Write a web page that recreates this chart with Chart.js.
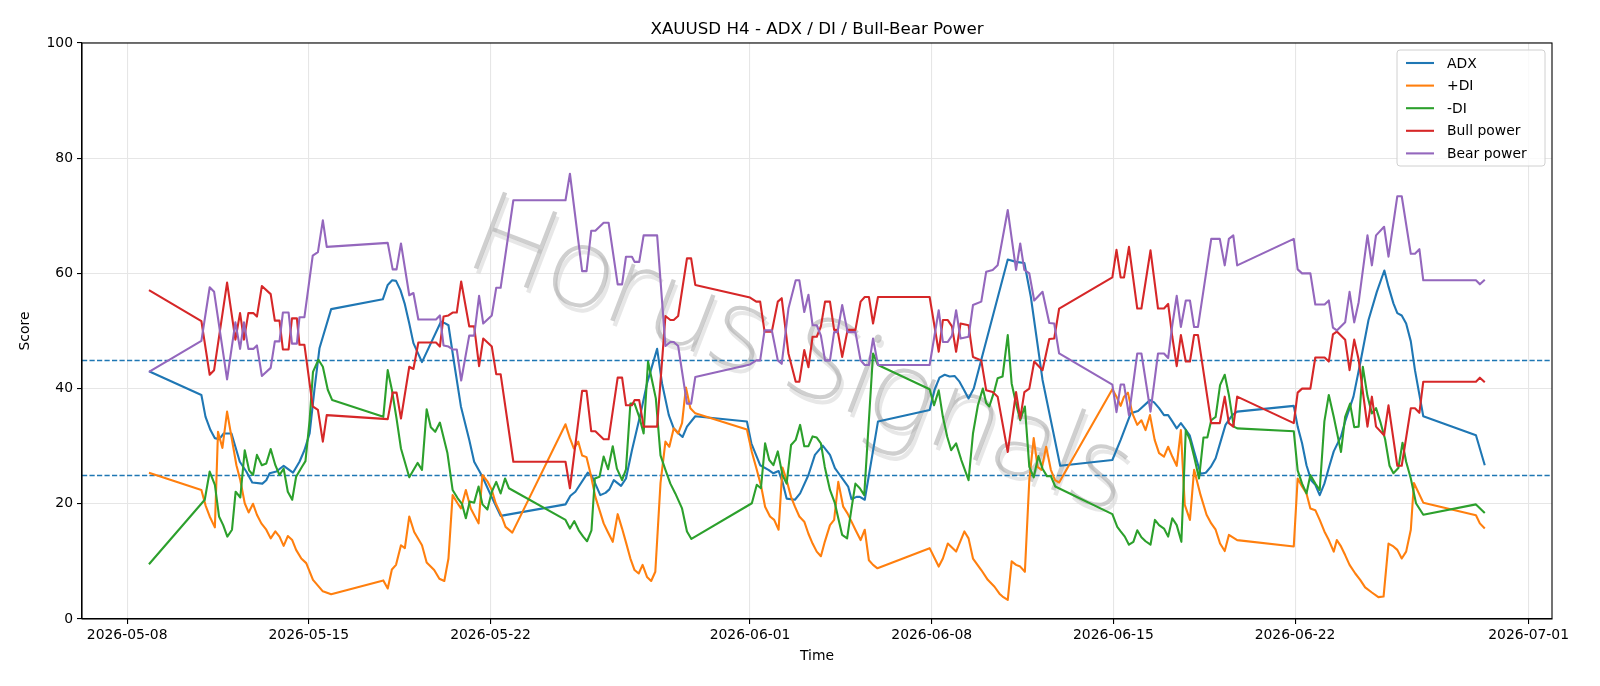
<!DOCTYPE html>
<html>
<head>
<meta charset="utf-8">
<title>XAUUSD H4 - ADX / DI / Bull-Bear Power</title>
<script src="https://cdn.jsdelivr.net/npm/chart.js@4.4.1/dist/chart.umd.min.js"></script>
<style>
  html, body { margin: 0; padding: 0; background: #fff; }
  #wrap { width: 1600px; height: 686px; }
</style>
</head>
<body>
<div id="wrap"><canvas id="adxChart" width="1600" height="686"></canvas></div>
<script>
// x values are days counted from 2026-05-08 00:00
const tickDays = [0, 7, 14, 24, 31, 38, 45, 54];
const tickLabels = ['2026-05-08', '2026-05-15', '2026-05-22', '2026-06-01', '2026-06-08', '2026-06-15', '2026-06-22', '2026-07-01'];
const levelLines = [45, 25];

const adxDays = [0.84, 2.86, 3.02, 3.21, 3.38, 3.54, 3.72, 4.02, 4.34, 4.59, 4.82, 5.21, 5.36, 5.49, 5.75, 6.03, 6.39, 6.64, 6.83, 7.03, 7.22, 7.41, 7.86,
  9.85, 10.04, 10.21, 10.36, 10.53, 10.69, 10.87, 11.03, 11.36, 12.09, 12.22, 12.38, 12.6, 12.86, 13.18, 13.37, 13.69, 14.01, 14.39,
  16.89, 17.08, 17.27, 17.75, 17.91, 18.23, 18.43, 18.58, 18.75, 19.03, 19.22, 19.45, 19.77, 20.03, 20.42, 20.61, 20.87, 21.06, 21.25, 21.4, 21.57, 21.89,
  23.88, 24.05, 24.39, 24.71, 24.9, 25.1, 25.25, 25.41, 25.73, 25.93, 26.25, 26.5, 26.8, 27.08, 27.27, 27.46, 27.65, 27.78, 27.91, 28.1, 28.23, 28.42, 28.93,
  30.92, 31.11, 31.3, 31.5, 31.69, 31.88, 32.07, 32.24, 32.42, 32.62, 32.91, 33.93, 34.25, 34.57, 34.82, 35.27, 35.95,
  37.96, 38.28, 38.67, 38.95, 39.41, 39.57, 39.76, 39.95, 40.11, 40.27, 40.44, 40.6, 40.75, 40.94, 41.11, 41.36, 41.56, 41.75, 41.94, 42.13, 42.32, 42.58, 42.77,
  44.95, 45.1, 45.27, 45.44, 45.62, 45.78, 45.95, 46.13, 46.3, 46.49, 46.77, 46.93, 47.25, 47.51, 47.83, 48.15, 48.44, 48.6, 48.79, 48.94, 49.11, 49.28, 49.46, 49.62, 49.94,
  51.97, 52.31];
const adxVals = [43.0, 38.9, 35.1, 32.8, 31.4, 31.2, 32.2, 32.2, 27.3, 25.6, 23.7, 23.5, 24.1, 25.3, 25.6, 26.6, 25.4, 27.3, 29.3, 32.2, 40.0, 47.0, 53.8,
  55.5, 58.0, 58.8, 58.7, 57.1, 54.8, 51.3, 47.9, 44.6, 51.6, 51.4, 51.0, 44.4, 36.9, 31.1, 27.3, 24.7, 21.5, 17.9,
  19.9, 21.4, 22.1, 25.4, 24.8, 21.5, 21.9, 22.5, 24.1, 23.1, 24.4, 29.3, 35.4, 40.9, 46.9, 40.9, 35.4, 33.1, 32.2, 31.6, 33.4, 35.2,
  34.3, 30.5, 26.7, 25.9, 25.3, 25.7, 23.8, 20.9, 20.7, 21.8, 25.0, 28.5, 30.1, 28.5, 26.2, 25.0, 23.8, 23.0, 20.8, 21.2, 21.2, 20.7, 34.3,
  36.3, 39.8, 41.9, 42.4, 42.1, 42.2, 41.2, 39.8, 38.3, 40.0, 45.0, 62.4, 62.0, 61.8, 55.9, 41.5, 26.6,
  27.6, 31.1, 35.7, 36.1, 38.0, 37.6, 36.6, 35.4, 35.4, 34.3, 33.1, 34.0, 33.1, 31.9, 29.1, 25.2, 25.4, 26.4, 27.9, 30.8, 33.7, 35.4, 36.0,
  37.0, 33.4, 30.5, 26.7, 24.1, 23.3, 21.5, 23.5, 26.2, 29.1, 31.7, 34.3, 38.6, 44.4, 51.9, 56.8, 60.5, 57.7, 54.8, 53.1, 52.7, 51.3, 48.2, 43.2, 35.2,
  31.9, 26.7];

const plusDays = [0.84, 2.86, 3.03, 3.18, 3.38, 3.5, 3.67, 3.85, 4.02, 4.21, 4.36, 4.53, 4.68, 4.85, 5.0, 5.17, 5.36, 5.53, 5.71, 5.87, 6.03, 6.19, 6.36, 6.51, 6.71, 6.9, 7.16, 7.54, 7.86,
  9.87, 10.04, 10.2, 10.36, 10.55, 10.7, 10.87, 11.06, 11.36, 11.54, 11.83, 12.03, 12.22, 12.38, 12.54, 12.73, 12.86, 13.05, 13.24, 13.54, 13.69, 13.88, 14.05, 14.2, 14.39, 14.58, 14.84,
  16.89, 17.06, 17.21, 17.38, 17.53, 17.7, 17.85, 18.04, 18.36, 18.52, 18.71, 18.9, 19.07, 19.22, 19.39, 19.55, 19.71, 19.86, 20.03, 20.19, 20.35, 20.55, 20.74, 20.89, 21.06, 21.23, 21.38, 21.53, 21.7, 21.89,
  23.88, 24.07, 24.26, 24.43, 24.58, 24.77, 24.93, 25.1, 25.25, 25.41, 25.58, 25.73, 25.9, 26.09, 26.25, 26.41, 26.57, 26.73, 26.88, 27.08, 27.24, 27.4, 27.59, 27.76, 27.91, 28.06, 28.26, 28.42, 28.58, 28.74, 28.91,
  30.92, 31.27, 31.43, 31.62, 31.94, 32.26, 32.42, 32.59, 32.91, 33.16, 33.42, 33.61, 33.73, 33.93, 34.08, 34.25, 34.41, 34.59, 34.76, 34.93, 35.08, 35.23, 35.41, 35.59, 35.75, 35.91,
  37.96, 38.12, 38.28, 38.41, 38.56, 38.73, 38.92, 39.08, 39.24, 39.41, 39.59, 39.76, 39.95, 40.11, 40.27, 40.44, 40.6, 40.75, 40.95, 41.11, 41.36, 41.59, 41.77, 41.94, 42.11, 42.29, 42.45, 42.77,
  44.95, 45.1, 45.27, 45.44, 45.59, 45.78, 45.95, 46.13, 46.3, 46.49, 46.61, 46.77, 46.93, 47.1, 47.32, 47.51, 47.7, 47.96, 48.21, 48.41, 48.6, 48.79, 48.94, 49.11, 49.28, 49.46, 49.58, 49.94,
  51.97, 52.12, 52.31];
const plusVals = [25.4, 22.4, 19.6, 17.8, 15.9, 32.5, 29.7, 36.0, 31.6, 26.7, 24.1, 20.1, 18.5, 20.0, 18.1, 16.6, 15.5, 14.0, 15.2, 14.3, 12.7, 14.4, 13.7, 12.0, 10.5, 9.7, 6.8, 4.8, 4.3,
  6.7, 5.3, 8.6, 9.4, 12.8, 12.3, 17.8, 15.1, 12.8, 9.8, 8.5, 7.0, 6.6, 10.5, 21.5, 20.1, 19.2, 22.4, 19.2, 16.6, 25.0, 23.9, 22.4, 20.1, 18.3, 16.0, 15.0,
  33.8, 31.4, 29.6, 30.8, 28.4, 28.1, 25.3, 21.2, 16.6, 15.1, 13.4, 18.2, 15.7, 13.3, 10.5, 8.5, 7.9, 9.4, 7.3, 6.6, 8.2, 23.6, 30.8, 29.9, 33.1, 32.2, 34.0, 40.2, 36.6, 35.7,
  32.9, 29.0, 25.9, 23.0, 19.5, 17.8, 17.2, 15.5, 26.3, 24.1, 21.2, 19.5, 17.8, 16.9, 14.8, 13.1, 11.7, 10.9, 13.4, 16.3, 17.2, 23.8, 19.5, 18.3, 16.9, 15.5, 13.7, 15.5, 10.2, 9.4, 8.8,
  12.3, 9.1, 10.5, 13.1, 11.7, 15.2, 14.0, 10.5, 8.5, 6.8, 5.6, 4.4, 3.9, 3.3, 10.0, 9.4, 9.1, 8.2, 24.1, 31.4, 26.4, 25.9, 29.9, 25.9, 24.1, 23.7,
  39.9, 38.6, 37.0, 38.6, 39.3, 35.7, 33.7, 34.5, 32.8, 35.4, 31.1, 28.8, 28.2, 29.9, 28.2, 26.6, 32.8, 19.8, 17.2, 25.9, 21.5, 18.1, 16.6, 15.5, 13.1, 11.8, 14.6, 13.7,
  12.6, 24.4, 23.0, 21.8, 19.2, 18.9, 17.2, 15.2, 13.7, 11.7, 13.7, 12.6, 11.1, 9.4, 7.9, 6.8, 5.5, 4.6, 3.8, 3.9, 13.1, 12.6, 12.0, 10.5, 11.7, 15.5, 23.6, 20.2,
  18.0, 16.6, 15.7];

const minusDays = [0.84, 2.99, 3.18, 3.38, 3.54, 3.7, 3.86, 4.04, 4.18, 4.36, 4.53, 4.7, 4.85, 5.0, 5.19, 5.36, 5.53, 5.71, 5.87, 6.03, 6.19, 6.36, 6.51, 6.73, 6.87, 7.03, 7.16, 7.37, 7.54, 7.73, 7.9,
  9.87, 10.04, 10.2, 10.38, 10.55, 10.87, 11.19, 11.36, 11.54, 11.7, 11.87, 12.05, 12.34, 12.54, 12.73, 12.9, 13.05, 13.2, 13.37, 13.54, 13.69, 13.88, 14.05, 14.22, 14.39, 14.56, 14.71,
  16.89, 17.06, 17.23, 17.4, 17.57, 17.72, 17.89, 18.02, 18.2, 18.36, 18.53, 18.71, 18.87, 19.07, 19.22, 19.39, 19.55, 19.73, 19.9, 20.07, 20.22, 20.37, 20.55, 20.74, 20.93, 21.12, 21.38, 21.57, 21.74,
  24.07, 24.26, 24.42, 24.58, 24.74, 24.9, 25.07, 25.25, 25.41, 25.58, 25.76, 25.93, 26.09, 26.25, 26.41, 26.57, 26.73, 26.88, 27.08, 27.27, 27.4, 27.55, 27.74, 27.91, 28.06, 28.23, 28.4, 28.74, 28.93,
  30.92, 31.09, 31.27, 31.43, 31.6, 31.75, 31.94, 32.14, 32.42, 32.59, 32.78, 32.97, 33.1, 33.22, 33.42, 33.54, 33.73, 33.93, 34.08, 34.25, 34.41, 34.59, 34.76, 34.93, 35.11, 35.27, 35.44, 35.59, 35.76,
  37.96, 38.15, 38.28, 38.44, 38.6, 38.77, 38.92, 39.08, 39.24, 39.43, 39.6, 39.76, 39.95, 40.11, 40.27, 40.44, 40.62, 40.79, 40.95, 41.11, 41.3, 41.47, 41.62, 41.77, 41.94, 42.11, 42.29, 42.45, 42.64, 42.77,
  44.95, 45.1, 45.27, 45.44, 45.59, 45.78, 45.95, 46.13, 46.3, 46.49, 46.77, 46.93, 47.12, 47.28, 47.45, 47.61, 47.79, 47.96, 48.12, 48.3, 48.47, 48.64, 48.79, 48.98, 49.14, 49.28, 49.46, 49.66, 49.94,
  51.97, 52.31];
const minusVals = [9.5, 20.7, 25.6, 23.3, 17.8, 16.3, 14.3, 15.5, 22.1, 21.1, 29.3, 25.8, 25.0, 28.5, 26.7, 27.0, 29.5, 26.7, 25.0, 26.1, 22.1, 20.7, 24.7, 26.4, 27.4, 34.5, 42.9, 45.0, 43.8, 39.8, 38.0,
  35.1, 43.2, 39.8, 34.8, 29.6, 24.6, 27.1, 25.9, 36.4, 33.3, 32.5, 34.1, 28.8, 22.4, 21.0, 20.0, 17.5, 20.4, 20.2, 23.0, 19.9, 19.0, 22.1, 23.8, 21.8, 24.4, 22.7,
  17.2, 15.7, 17.0, 15.4, 14.3, 13.5, 15.4, 24.4, 24.7, 28.2, 26.0, 30.0, 26.1, 24.1, 26.0, 37.4, 37.4, 35.1, 32.2, 44.7, 41.5, 38.3, 28.4, 25.9, 23.5, 21.8, 19.2, 15.2, 13.9,
  20.1, 23.3, 22.7, 30.5, 27.6, 26.7, 29.1, 25.0, 23.5, 30.2, 31.1, 33.7, 30.0, 30.0, 31.7, 31.5, 30.5, 26.4, 22.4, 20.1, 17.5, 14.6, 14.0, 19.2, 23.5, 22.7, 21.5, 46.1, 44.1,
  39.9, 37.1, 39.7, 35.1, 31.6, 29.3, 30.5, 27.6, 24.1, 32.2, 37.1, 40.0, 37.5, 36.9, 39.7, 41.8, 42.1, 49.3, 40.9, 37.4, 34.5, 36.9, 26.4, 24.6, 28.3, 26.1, 24.8, 24.8, 23.0,
  18.2, 16.0, 15.2, 14.3, 12.9, 13.4, 15.4, 14.2, 13.5, 12.9, 17.2, 16.3, 15.7, 14.3, 17.5, 16.3, 13.4, 32.8, 31.1, 28.2, 24.4, 31.5, 31.5, 34.5, 35.1, 40.6, 42.4, 38.9, 33.4, 33.1,
  32.6, 25.8, 23.5, 21.8, 25.0, 23.5, 22.4, 34.3, 38.9, 35.1, 29.0, 35.1, 37.4, 33.3, 33.4, 43.8, 38.7, 35.7, 36.6, 34.0, 31.2, 26.6, 25.3, 26.2, 30.6, 27.3, 24.4, 20.1, 18.1,
  19.9, 18.4];

// bull and bear power are sampled on the same bars
const powerDays = [0.84, 2.86, 3.18, 3.35, 3.85, 4.17, 4.35, 4.5, 4.67, 4.87, 5.0, 5.19, 5.53, 5.69, 5.87, 6.0, 6.22, 6.35, 6.54, 6.64, 6.83, 7.15, 7.35, 7.54, 7.69,
  10.04, 10.23, 10.38, 10.55, 10.87, 11.03, 11.22, 11.9, 12.05, 12.19, 12.38, 12.54, 12.7, 12.87, 13.18, 13.37, 13.56, 13.72, 14.05, 14.22, 14.39, 14.88,
  16.89, 17.06, 17.53, 17.7, 17.88, 18.04, 18.2, 18.36, 18.55, 18.9, 19.07, 19.22, 19.45, 19.55, 19.73, 19.9, 20.42, 20.74, 20.93, 21.06, 21.23, 21.57, 21.73, 21.89,
  24.0, 24.24, 24.39, 24.56, 24.84, 25.07, 25.22, 25.48, 25.76, 25.9, 26.09, 26.25, 26.41, 26.57, 26.73, 26.89, 27.08, 27.24, 27.37, 27.55, 27.76, 28.06, 28.26, 28.42, 28.58, 28.74, 28.93,
  30.92, 31.27, 31.43, 31.62, 31.78, 31.94, 32.11, 32.42, 32.59, 32.91, 33.1, 33.35, 33.54, 33.93, 34.25, 34.41, 34.57, 34.76, 34.95, 35.27, 35.53, 35.72, 35.91,
  37.96, 38.12, 38.28, 38.41, 38.6, 38.92, 39.08, 39.43, 39.72, 39.95, 40.11, 40.27, 40.44, 40.6, 40.79, 40.95, 41.11, 41.26, 41.77, 42.1, 42.29, 42.45, 42.62, 42.77,
  44.95, 45.1, 45.27, 45.59, 45.78, 46.14, 46.3, 46.46, 46.61, 46.93, 47.1, 47.28, 47.45, 47.79, 47.96, 48.12, 48.43, 48.6, 48.94, 49.11, 49.46, 49.62, 49.79, 49.94,
  51.97, 52.12, 52.31];
const bullVals = [57.1, 51.7, 42.4, 43.2, 58.4, 48.5, 53.1, 48.5, 53.1, 53.1, 52.5, 57.8, 56.4, 51.8, 51.8, 46.8, 46.8, 52.2, 52.2, 47.6, 47.6, 36.9, 36.3, 30.8, 35.4,
  34.7, 39.3, 39.3, 34.8, 43.8, 43.4, 48.0, 48.0, 47.3, 52.5, 52.7, 53.2, 53.2, 58.6, 50.8, 50.8, 43.9, 48.7, 47.3, 42.5, 42.5, 27.3,
  27.3, 22.7, 39.6, 39.6, 32.6, 32.6, 31.9, 31.2, 31.2, 41.9, 41.9, 37.1, 37.1, 38.0, 38.0, 33.4, 33.4, 52.6, 51.9, 51.9, 52.6, 62.6, 62.6, 58.0,
  55.8, 55.1, 55.1, 49.9, 49.9, 55.1, 55.7, 46.1, 41.2, 41.2, 46.7, 43.7, 49.0, 49.0, 50.8, 55.1, 55.1, 50.2, 50.2, 45.5, 50.2, 50.2, 55.1, 55.9, 55.9, 51.3, 55.9,
  55.9, 46.4, 51.9, 51.9, 50.8, 46.4, 51.3, 51.0, 45.5, 44.9, 39.7, 39.4, 38.6, 29.0, 39.4, 34.8, 39.4, 40.0, 44.7, 43.2, 48.6, 48.7, 53.9,
  59.3, 64.1, 59.3, 59.3, 64.6, 53.9, 53.9, 64.0, 53.9, 53.9, 54.7, 49.0, 43.9, 49.3, 44.7, 44.7, 49.3, 49.3, 34.0, 34.0, 38.6, 34.0, 33.4, 38.6,
  34.0, 39.3, 40.0, 40.0, 45.4, 45.4, 44.7, 49.4, 49.9, 48.5, 43.2, 48.5, 45.0, 33.4, 38.6, 33.4, 31.9, 37.1, 26.6, 26.6, 36.6, 36.6, 35.8, 41.2,
  41.2, 41.9, 41.1];
const bearVals = [42.9, 48.3, 57.6, 56.8, 41.6, 51.5, 46.9, 51.5, 46.9, 46.9, 47.5, 42.2, 43.6, 48.2, 48.2, 53.2, 53.2, 47.8, 47.8, 52.4, 52.4, 63.1, 63.7, 69.2, 64.6,
  65.3, 60.7, 60.7, 65.2, 56.2, 56.6, 52.0, 52.0, 52.7, 47.5, 47.3, 46.8, 46.8, 41.4, 49.2, 49.2, 56.1, 51.3, 52.7, 57.5, 57.5, 72.7,
  72.7, 77.3, 60.4, 60.4, 67.4, 67.4, 68.1, 68.8, 68.8, 58.1, 58.1, 62.9, 62.9, 62.0, 62.0, 66.6, 66.6, 47.4, 48.1, 48.1, 47.4, 37.4, 37.4, 42.0,
  44.2, 44.9, 44.9, 50.1, 50.1, 44.9, 44.3, 53.9, 58.8, 58.8, 53.3, 56.3, 51.0, 51.0, 49.2, 44.9, 44.9, 49.8, 49.8, 54.5, 49.8, 49.8, 44.9, 44.1, 44.1, 48.7, 44.1,
  44.1, 53.6, 48.1, 48.1, 49.2, 53.6, 48.7, 49.0, 54.5, 55.1, 60.3, 60.6, 61.4, 71.0, 60.6, 65.2, 60.6, 60.0, 55.3, 56.8, 51.4, 51.3, 46.1,
  40.7, 35.9, 40.7, 40.7, 35.4, 46.1, 46.1, 36.0, 46.1, 46.1, 45.3, 51.0, 56.1, 50.7, 55.3, 55.3, 50.7, 50.7, 66.0, 66.0, 61.4, 66.0, 66.6, 61.4,
  66.0, 60.7, 60.0, 60.0, 54.6, 54.6, 55.3, 50.6, 50.1, 51.5, 56.8, 51.5, 55.0, 66.6, 61.4, 66.6, 68.1, 62.9, 73.4, 73.4, 63.4, 63.4, 64.2, 58.8,
  58.8, 58.1, 58.9];

function toPoints(days, vals) {
    return days.map((d, i) => ({ x: d, y: vals[i] }));
}

const FONT = "'DejaVu Sans', 'Liberation Sans', sans-serif";
Chart.defaults.font.family = FONT;
Chart.defaults.font.size = 13.9;
Chart.defaults.color = '#000';

function lineSet(label, days, vals, color, order) {
    return {
        label: label,
        data: toPoints(days, vals),
        borderColor: color,
        backgroundColor: color,
        borderWidth: 2.1,
        pointRadius: 0,
        tension: 0,
        fill: false,
        borderJoinStyle: 'round',
        order: order
    };
}

// matplotlib-like extras: watermark, level lines, frame, title, legend
const decorations = {
    id: 'decorations',
    beforeDatasetsDraw(chart) {
        const ctx = chart.ctx;
        const area = chart.chartArea;
        const y = chart.scales.y;

        // faint rotated watermark, thin letters with a light shadow
        ctx.save();
        ctx.translate(800, 358);
        ctx.rotate(21 * Math.PI / 180);
        ctx.font = "200 114px 'Noto Sans', Roboto, 'Open Sans', sans-serif";
        ctx.textAlign = 'center';
        ctx.textBaseline = 'middle';
        ctx.fillStyle = 'rgba(215, 215, 215, 0.6)';
        ctx.fillText('Horus Signals', 4, 4);
        ctx.fillStyle = 'rgba(160, 160, 160, 0.5)';
        ctx.fillText('Horus Signals', 0, 0);
        ctx.restore();

        ctx.save();
        ctx.strokeStyle = '#1f77b4';
        ctx.lineWidth = 1.4;
        ctx.setLineDash([5.2, 2.3]);
        levelLines.forEach(v => {
            const py = Math.round(y.getPixelForValue(v)) + 0.5;
            ctx.beginPath();
            ctx.moveTo(area.left, py);
            ctx.lineTo(area.right, py);
            ctx.stroke();
        });
        ctx.restore();
    },
    afterDraw(chart) {
        const ctx = chart.ctx;
        const area = chart.chartArea;

        ctx.save();
        ctx.strokeStyle = '#000';
        ctx.lineWidth = 1.1;
        ctx.strokeRect(area.left, area.top, area.right - area.left, area.bottom - area.top);

        ctx.fillStyle = '#000';
        ctx.font = '16.7px ' + FONT;
        ctx.textAlign = 'center';
        ctx.textBaseline = 'alphabetic';
        ctx.fillText('XAUUSD H4 - ADX / DI / Bull-Bear Power', (area.left + area.right) / 2, area.top - 9);

        // legend box in the upper right corner
        const bx = area.right - 155, by = area.top + 7, bw = 148, bh = 116, r = 3;
        ctx.beginPath();
        ctx.moveTo(bx + r, by);
        ctx.lineTo(bx + bw - r, by);
        ctx.quadraticCurveTo(bx + bw, by, bx + bw, by + r);
        ctx.lineTo(bx + bw, by + bh - r);
        ctx.quadraticCurveTo(bx + bw, by + bh, bx + bw - r, by + bh);
        ctx.lineTo(bx + r, by + bh);
        ctx.quadraticCurveTo(bx, by + bh, bx, by + bh - r);
        ctx.lineTo(bx, by + r);
        ctx.quadraticCurveTo(bx, by, bx + r, by);
        ctx.closePath();
        ctx.fillStyle = 'rgba(255,255,255,0.8)';
        ctx.fill();
        ctx.strokeStyle = '#d0d0d0';
        ctx.lineWidth = 1;
        ctx.stroke();

        ctx.font = '13.9px ' + FONT;
        ctx.textAlign = 'left';
        ctx.textBaseline = 'middle';
        chart.data.datasets.forEach((ds, i) => {
            const ly = by + 13 + i * 22.6;
            ctx.strokeStyle = ds.borderColor;
            ctx.lineWidth = 2.1;
            ctx.beginPath();
            ctx.moveTo(bx + 9, ly);
            ctx.lineTo(bx + 37, ly);
            ctx.stroke();
            ctx.fillStyle = '#000';
            ctx.fillText(ds.label, bx + 50, ly + 1);
        });
        ctx.restore();
    }
};

const config = {
    type: 'line',
    data: {
        datasets: [
            lineSet('ADX', adxDays, adxVals, '#1f77b4', 5),
            lineSet('+DI', plusDays, plusVals, '#ff7f0e', 4),
            lineSet('-DI', minusDays, minusVals, '#2ca02c', 3),
            lineSet('Bull power', powerDays, bullVals, '#d62728', 2),
            lineSet('Bear power', powerDays, bearVals, '#9467bd', 1)
        ]
    },
    options: {
        responsive: false,
        animation: false,
        events: [],
        layout: { padding: { top: 43, right: 48, left: 0, bottom: 0 } },
        plugins: {
            legend: { display: false },
            title: { display: false },
            tooltip: { enabled: false }
        },
        scales: {
            x: {
                type: 'linear',
                min: -1.74,
                max: 54.9,
                afterFit(scale) { scale.height = 67; },
                afterBuildTicks(scale) {
                    scale.ticks = tickDays.map(v => ({ value: v }));
                },
                ticks: {
                    autoSkip: false,
                    maxRotation: 0,
                    padding: 3,
                    color: '#000',
                    font: { size: 13.9 },
                    callback: function(value) {
                        const i = tickDays.indexOf(value);
                        return i >= 0 ? tickLabels[i] : '';
                    }
                },
                grid: {
                    color: '#e6e6e6',
                    lineWidth: 1.1,
                    tickColor: '#000',
                    tickLength: 5,
                    tickWidth: 1.1
                },
                border: { display: true, color: '#000', width: 1.1 },
                title: {
                    display: true,
                    text: 'Time',
                    color: '#000',
                    font: { size: 13.9 },
                    padding: { top: 0, bottom: 21 }
                }
            },
            y: {
                min: 0,
                max: 100,
                afterFit(scale) { scale.width = 82; },
                ticks: {
                    stepSize: 20,
                    padding: 4,
                    color: '#000',
                    font: { size: 13.9 }
                },
                grid: {
                    color: '#e6e6e6',
                    lineWidth: 1.1,
                    tickColor: '#000',
                    tickLength: 5,
                    tickWidth: 1.1
                },
                border: { display: true, color: '#000', width: 1.1 },
                title: {
                    display: true,
                    text: 'Score',
                    color: '#000',
                    font: { size: 13.9 },
                    padding: { top: 17, bottom: 0 }
                }
            }
        }
    },
    plugins: [decorations]
};

new Chart(document.getElementById('adxChart').getContext('2d'), config);
</script>
</body>
</html>
